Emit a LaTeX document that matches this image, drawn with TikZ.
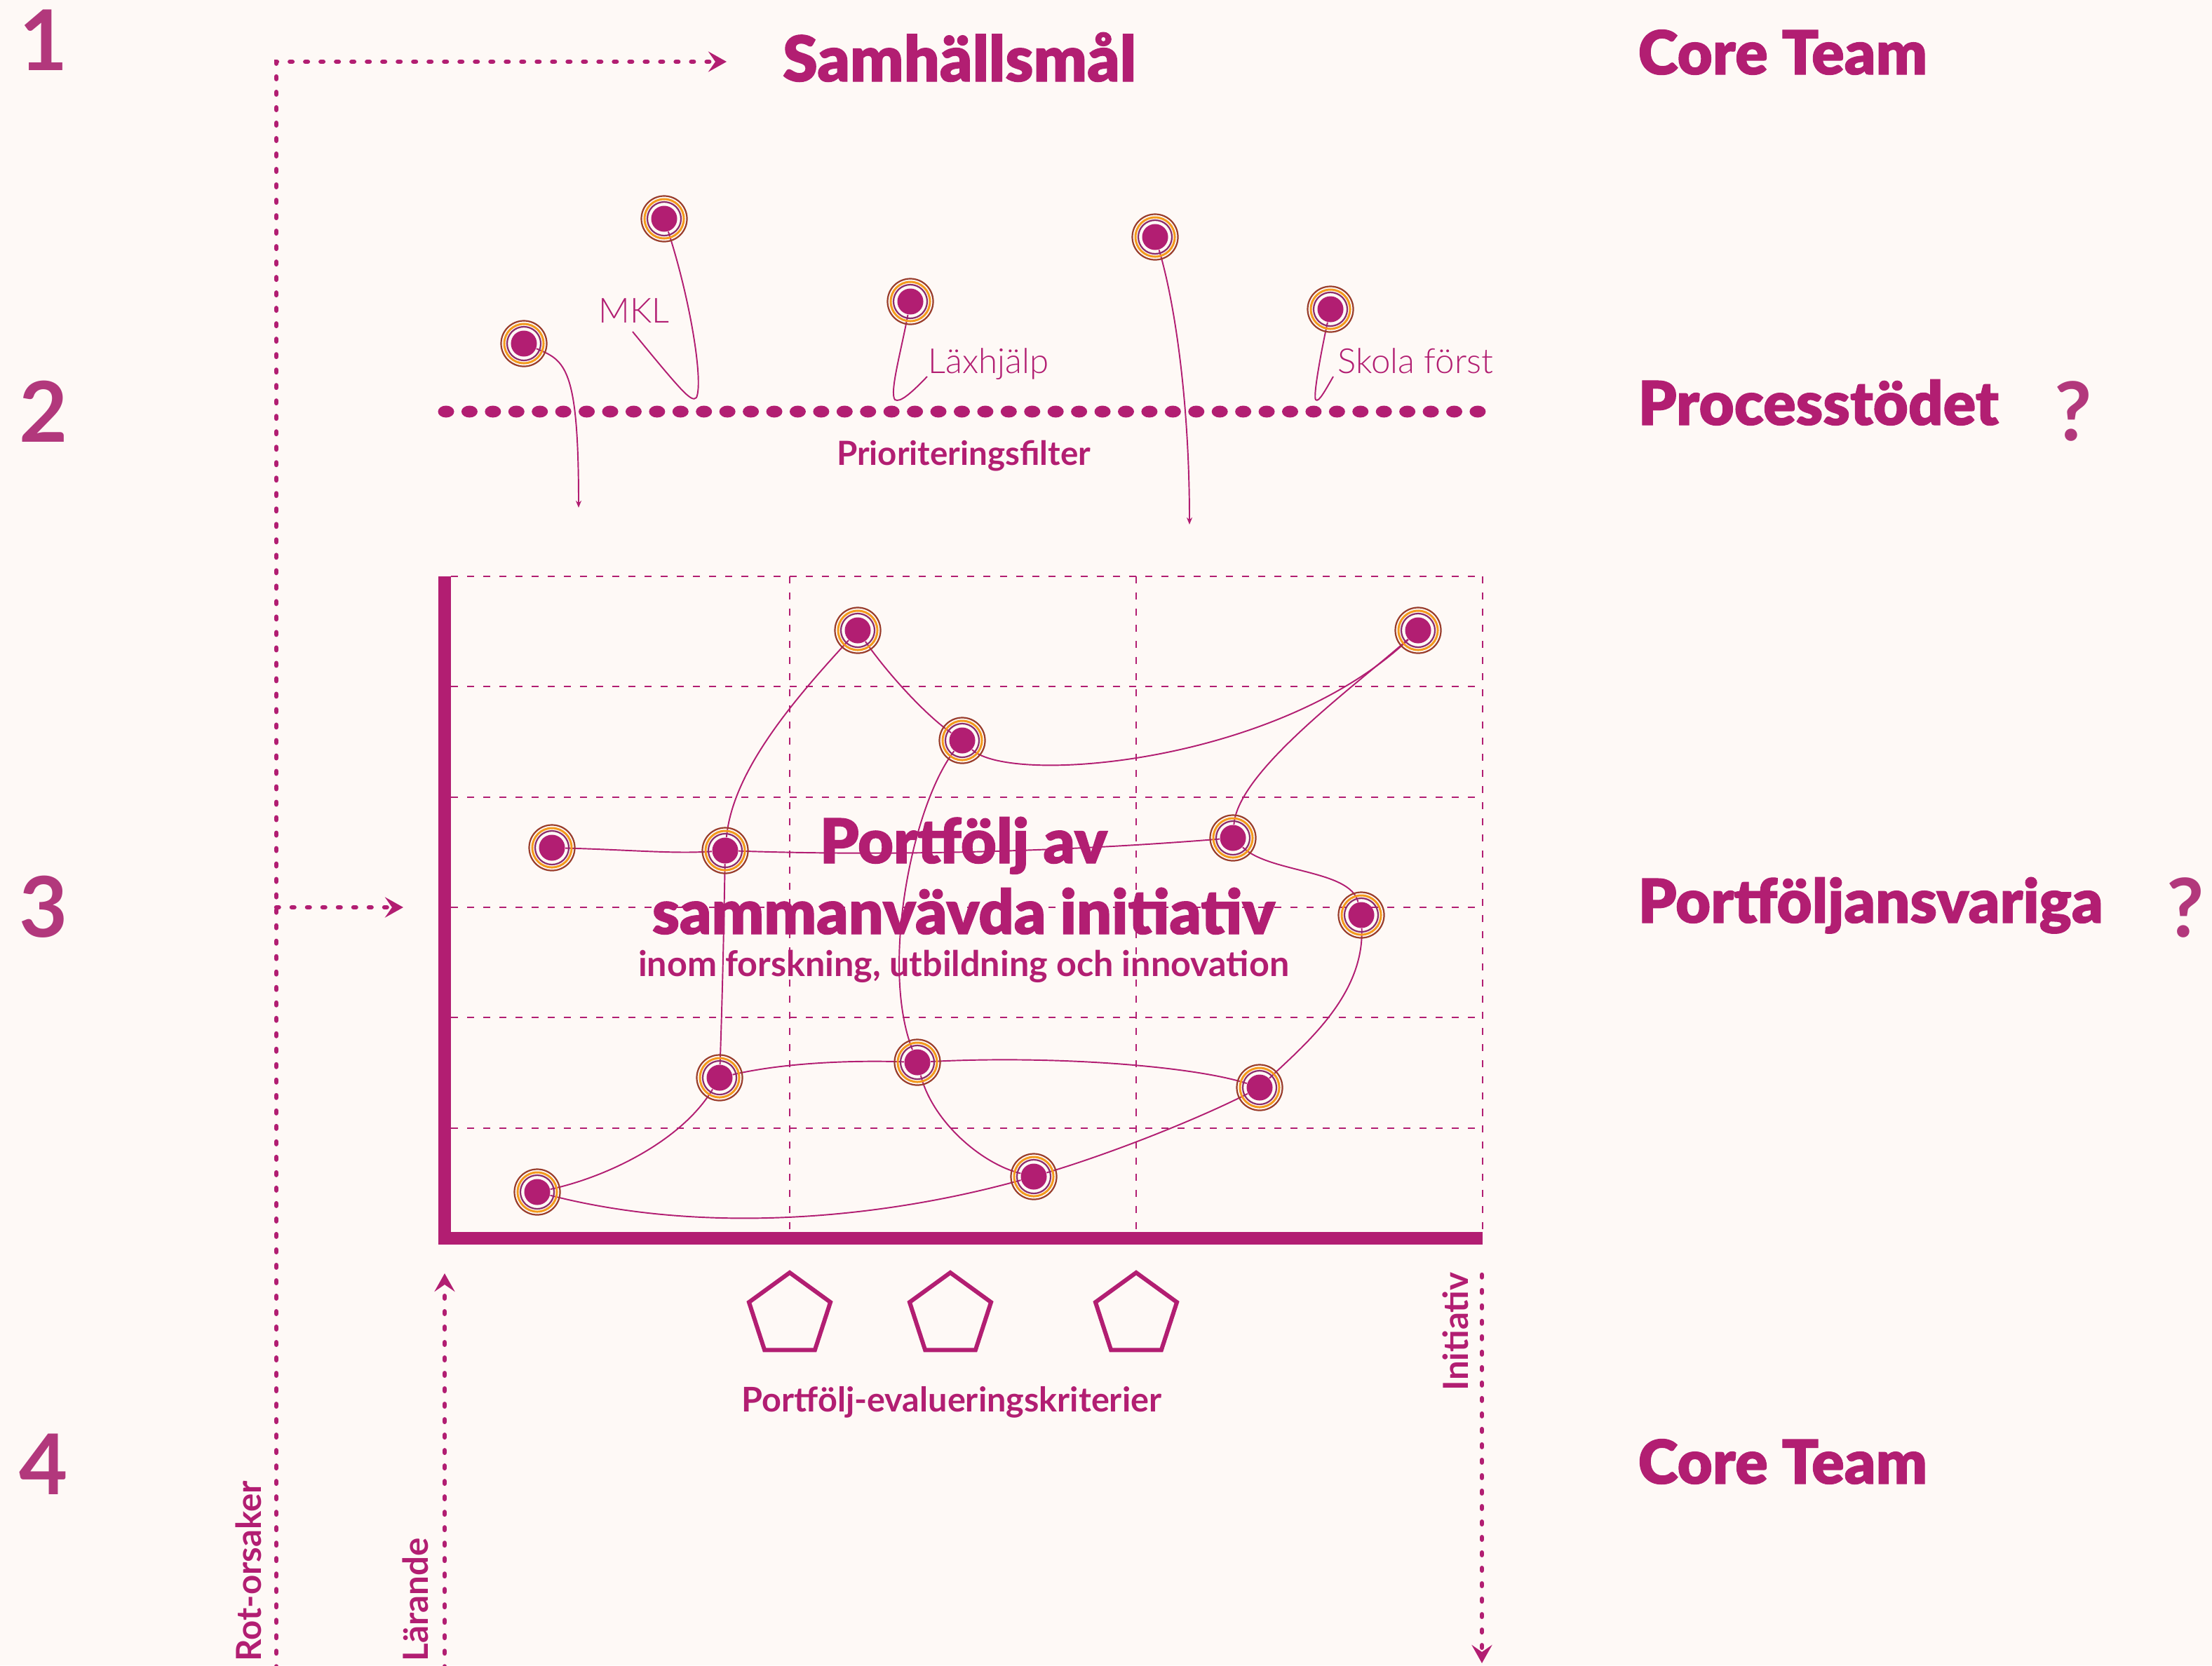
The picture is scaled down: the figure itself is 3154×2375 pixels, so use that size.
\documentclass[tikz,border=0pt]{standalone}
\usepackage{fontspec}
\setmainfont{Lato}
\newfontfamily\blk{Lato Black}[FakeBold=1.2]
\newfontfamily\lgt{Lato Light}
\usetikzlibrary{arrows.meta,shapes.geometric}
\definecolor{bgc}{HTML}{FEF9F6}
\definecolor{mag}{HTML}{B21E72}
\definecolor{numc}{HTML}{B2387C}
\definecolor{ringbr}{HTML}{993D2C}
\definecolor{ringor}{HTML}{F39A1D}
\definecolor{ringpu}{HTML}{8A2C6C}
\begin{document}
\begin{tikzpicture}[x=0.01cm,y=-0.01cm,
  core/.style={circle,inner sep=0pt,minimum size=0.37cm},
  link/.style={draw=mag,line width=0.55pt},
  smalltip/.style={-{Stealth[length=0.1cm,width=0.08cm]}},
  dotline/.style={draw=mag,line width=0.065cm,line cap=round,dash pattern=on 0.035cm off 0.185cm},
  chev/.style={-{Stealth[length=0.26cm,width=0.29cm,inset=0.1cm]}},
  gridl/.style={draw=mag,line width=0.7pt,dash pattern=on 0.1cm off 0.13cm},
  bigbar/.style={draw=mag,line width=0.18cm},
  head/.style={text=mag,font=\blk\fontsize{24.6}{28}\selectfont,anchor=base west,inner sep=0pt},
  numl/.style={text=numc,font=\bfseries\fontsize{34}{40}\selectfont,anchor=base,inner sep=0pt},
  qm/.style={text=numc,font=\bfseries\fontsize{33}{40}\selectfont,anchor=base,inner sep=0pt},
  ttl/.style={text=mag,font=\blk\fontsize{25}{28}\selectfont,anchor=base,inner sep=0pt},
  lbl/.style={text=mag,font=\bfseries\fontsize{13.8}{16}\selectfont,anchor=base,inner sep=0pt},
  thin/.style={text=mag,font=\lgt\fontsize{14}{16}\selectfont,anchor=base west,inner sep=0pt},
  rot/.style={text=mag,font=\bfseries\fontsize{14}{16}\selectfont,rotate=90,inner sep=0pt},
  penta/.style={draw=mag,line width=0.06cm,regular polygon,regular polygon sides=5,minimum size=1.22cm,inner sep=0pt}
]
\path[use as bounding box] (0,0) rectangle (3154,2375);
\fill[bgc] (0,0) rectangle (3154,2375);

% numbers
\node[numl] (num1) at (62,100) {1};
\node[numl] (num2) at (62,630) {2};
\node[numl] (num3) at (62,1336) {3};
\node[numl] (num4) at (62,2131) {4};

% right headings
\node[head] (ct1) at (2335,106) {Core Team};
\node[head] (ps) at (2335,606) {Processtödet};
\node[qm] (q1) at (2956,628) {?};
\node[head] (pa2) at (2335,1316) {Portföljansvariga};
\node[qm] (q2) at (3116,1336) {?};
\node[head] (ct2) at (2335,2116) {Core Team};

% top title
\node[ttl,font=\blk\fontsize{25.6}{28}\selectfont] (sam) at (1368,116) {Samhällsmål};

% Rot-orsaker arrows
\coordinate (roB) at (394,2380);
\coordinate (roC) at (394,88);
\coordinate (roT) at (1036,88);
\coordinate (roM) at (394,1294);
\coordinate (roMT) at (575,1294);
\draw[dotline,chev] (roB) -- (roC) -- (roT);
\draw[dotline,chev] (roM) -- (roMT);
\node[rot,anchor=base west] (rotlbl) at (372,2370) {Rot-orsaker};

% Lärande arrow
\coordinate (laB) at (634,2380);
\coordinate (laT) at (634,1816);
\draw[dotline,chev] (laB) -- (laT);
\node[rot,anchor=base west] (larlbl) at (610,2370) {Lärande};

% Initiativ arrow
\coordinate (inT) at (2113,1818);
\coordinate (inB) at (2113,2372);
\draw[dotline,chev] (inT) -- (inB);
\node[rot,anchor=base east] (inilbl) at (2093,1814) {Initiativ};

% filter dots
\foreach \i in {0,...,44} {
  \fill[mag] ({636+\i*33.43},587) ellipse (0.115cm and 0.085cm);
}
\node[lbl,font=\bfseries\fontsize{13.5}{16}\selectfont] (filt) at (1374,663) {Prioriteringsfilter};

% grid
\foreach \y in {822,979,1137,1294,1451,1609} {
  \draw[gridl] (643,\y) -- (2114,\y);
}
\foreach \x in {1126,1620,2114} {
  \draw[gridl] (\x,822) -- (\x,1757);
}
\draw[bigbar] (634,822) -- (634,1775);
\draw[bigbar] (625,1766) -- (2114,1766);

% pentagons
\node[penta] (pg1) at (1126,1876) {};
\node[penta] (pg2) at (1355,1876) {};
\node[penta] (pg3) at (1620,1876) {};
\node[lbl] (crit) at (1357,2013) {Portfölj-evalueringskriterier};

% top pins
\node[core] (pa) at (747,490) {};
\node[core] (pb) at (947,312) {};
\node[core] (pc) at (1298,430) {};
\node[core] (pd) at (1647,338) {};
\node[core] (pe) at (1897,441) {};
\coordinate (ta) at (825,724);
\coordinate (td) at (1696,748);
\coordinate (hb) at (902,473);
\coordinate (hc) at (1322,537);
\coordinate (he) at (1901,537);

\draw[link,smalltip] (pa) .. controls (806,514) and (825,524) .. (ta);
\draw[link,smalltip] (pd) .. controls (1672,420) and (1696,560) .. (td);
\draw[link] (pb) .. controls (985,430) and (1003,545) .. (993,567) .. controls (986,574) and (975,562) .. (hb);
\draw[link] (pc) .. controls (1285,500) and (1268,560) .. (1276,570) .. controls (1283,575) and (1300,560) .. (hc);
\draw[link] (pe) .. controls (1884,500) and (1872,565) .. (1876,570) .. controls (1880,575) and (1890,556) .. (he);

\node[thin] (mkl) at (853,460) {MKL};
\node[thin] (lax) at (1323,532) {Läxhjälp};
\node[thin] (sko) at (1907,532) {Skola först};

% grid pins
\node[core] (n1) at (1223,899) {};
\node[core] (n2) at (2022,899) {};
\node[core] (n3) at (1372,1056) {};
\node[core] (n4) at (787,1209) {};
\node[core] (n5) at (1034,1213) {};
\node[core] (n6) at (1758,1195) {};
\node[core] (n7) at (1941,1305) {};
\node[core] (n8) at (1026,1537) {};
\node[core] (n9) at (1308,1515) {};
\node[core] (n10) at (1796,1551) {};
\node[core] (n11) at (766,1700) {};
\node[core] (n12) at (1474,1678) {};

\draw[link] (n1) .. controls (1130,1000) and (1045,1100) .. (n5);
\draw[link] (n1) .. controls (1265,960) and (1320,1020) .. (n3);
\draw[link] (n3) .. controls (1440,1120) and (1820,1090) .. (n2);
\draw[link] (n2) .. controls (1930,980) and (1765,1100) .. (n6);
\draw[link] (n4) .. controls (900,1212) and (960,1218) .. (n5);
\draw[link] (n5) .. controls (1300,1222) and (1550,1212) .. (n6);
\draw[link] (n6) .. controls (1810,1245) and (1925,1240) .. (n7);
\draw[link] (n7) .. controls (1945,1420) and (1860,1490) .. (n10);
\draw[link] (n5) .. controls (1032,1330) and (1030,1420) .. (n8);
\draw[link] (n8) .. controls (1120,1515) and (1220,1512) .. (n9);
\draw[link] (n9) .. controls (1500,1505) and (1700,1520) .. (n10);
\draw[link] (n8) .. controls (970,1630) and (860,1680) .. (n11);
\draw[link] (n11) .. controls (1000,1760) and (1250,1740) .. (n12);
\draw[link] (n12) .. controls (1600,1640) and (1720,1590) .. (n10);
\draw[link] (n3) .. controls (1300,1150) and (1255,1380) .. (n9);
\draw[link] (n9) .. controls (1330,1600) and (1400,1660) .. (n12);

% rings
\foreach \p in {pa,pb,pc,pd,pe,n1,n2,n3,n4,n5,n6,n7,n8,n9,n10,n11,n12} {
  \draw[ringbr,line width=0.022cm] (\p) circle (0.325cm);
  \draw[ringor,line width=0.03cm] (\p) circle (0.28cm);
  \draw[ringpu,line width=0.022cm] (\p) circle (0.24cm);
  \fill[mag] (\p) circle (0.185cm);
}

% central title
\node[ttl] (t1) at (1374,1231) {Portfölj av};
\node[ttl] (t2) at (1374,1332) {sammanvävda initiativ};
\node[lbl,font=\bfseries\fontsize{14.3}{17}\selectfont] (t3) at (1374,1392) {inom forskning, utbildning och innovation};
\end{tikzpicture}
\end{document}
